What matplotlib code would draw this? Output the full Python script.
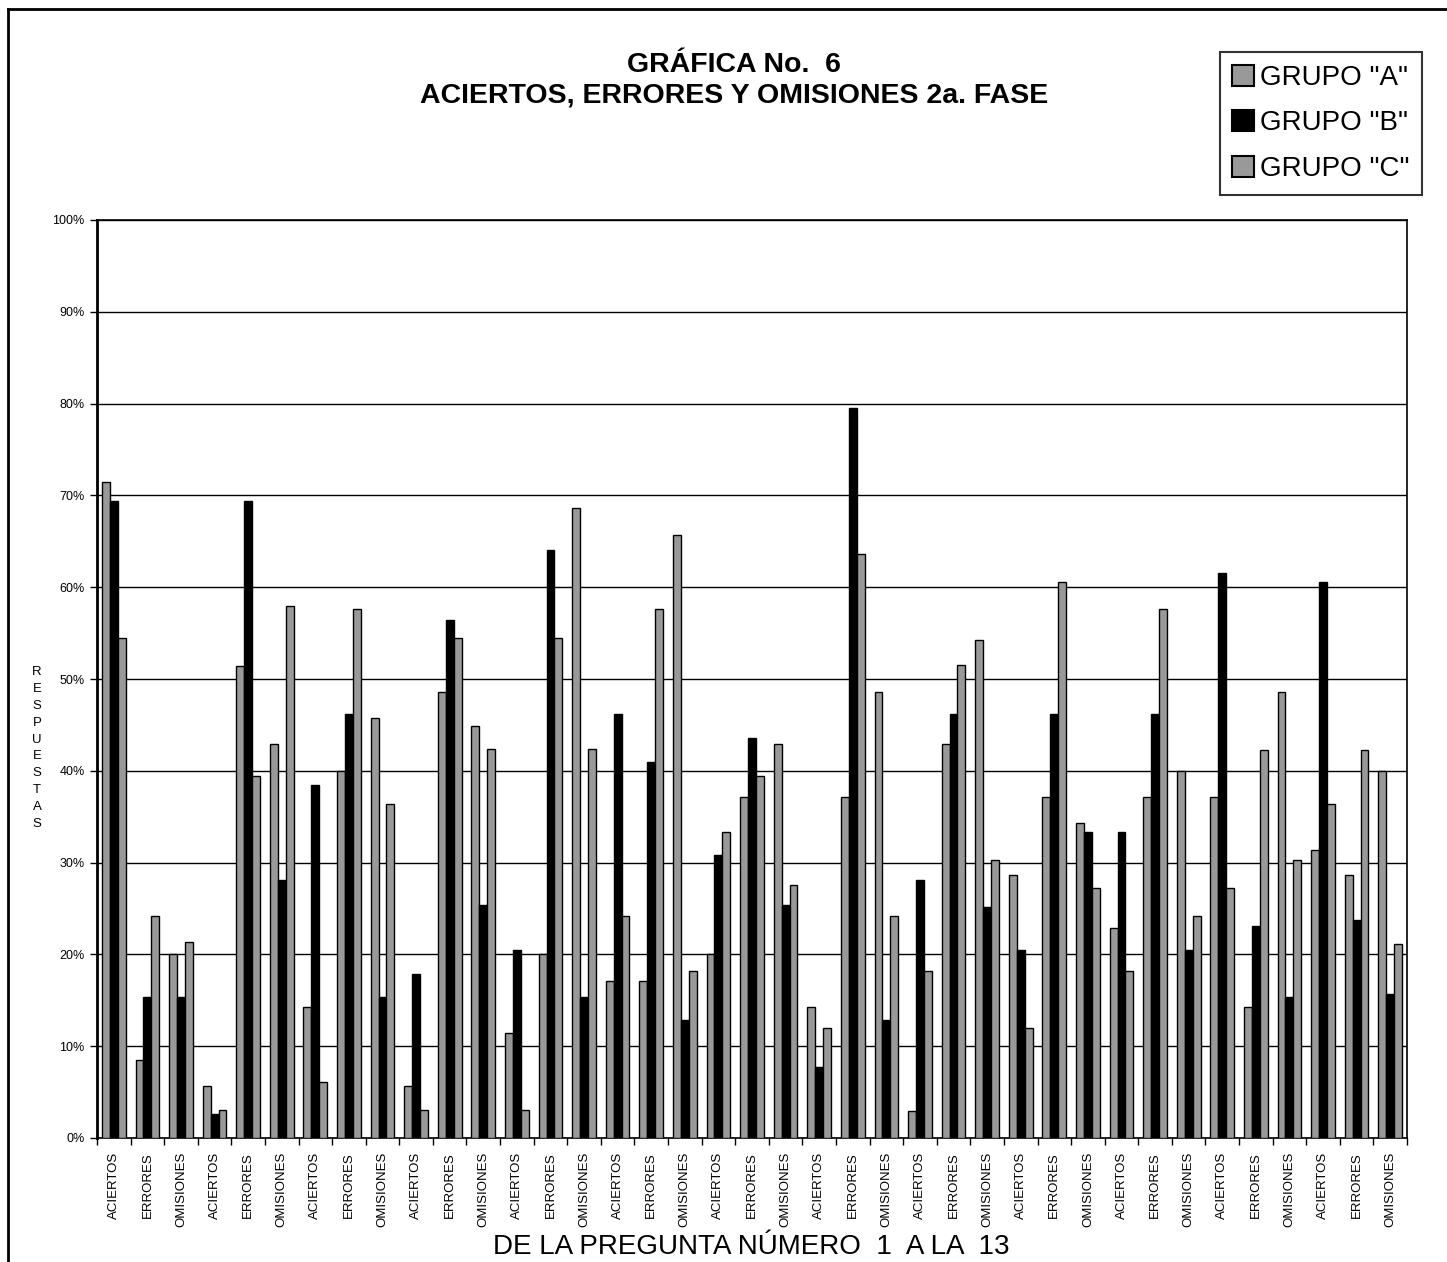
import numpy as np
import matplotlib
matplotlib.use("Agg")
from matplotlib import pyplot as plt
from matplotlib.patches import Patch
from matplotlib.lines import Line2D

plt.rcParams['font.family'] = ['Liberation Sans', 'DejaVu Sans']

categories = ['ACIERTOS', 'ERRORES', 'OMISIONES'] * 13

grupo_a = [71.5, 8.5, 20.0, 5.7, 51.4, 42.9, 14.3, 40.0, 45.7, 5.7, 48.6, 44.9,
           11.4, 20.0, 68.6, 17.1, 17.1, 65.7, 20.0, 37.1, 42.9, 14.3, 37.1, 48.6,
           2.9, 42.9, 54.3, 28.6, 37.1, 34.3, 22.9, 37.1, 40.0, 37.1, 14.3, 48.6,
           31.4, 28.6, 40.0]
grupo_b = [69.4, 15.4, 15.4, 2.6, 69.4, 28.1, 38.5, 46.2, 15.4, 17.9, 56.4, 25.4,
           20.5, 64.1, 15.4, 46.2, 41.0, 12.8, 30.8, 43.6, 25.4, 7.7, 79.5, 12.8,
           28.1, 46.2, 25.2, 20.5, 46.2, 33.3, 33.3, 46.2, 20.5, 61.5, 23.1, 15.4,
           60.6, 23.7, 15.7]
grupo_c = [54.5, 24.2, 21.3, 3.0, 39.4, 57.9, 6.1, 57.6, 36.4, 3.0, 54.5, 42.4,
           3.0, 54.5, 42.4, 24.2, 57.6, 18.2, 33.3, 39.4, 27.6, 12.0, 63.6, 24.2,
           18.2, 51.5, 30.3, 12.0, 60.6, 27.2, 18.2, 57.6, 24.2, 27.2, 42.3, 30.3,
           36.4, 42.3, 21.1]

series = [('GRUPO "A"', grupo_a, '#999999'),
          ('GRUPO "B"', grupo_b, '#000000'),
          ('GRUPO "C"', grupo_c, '#999999')]

fig = plt.figure(figsize=(14.47, 12.62), dpi=100)
ax = fig.add_axes([97 / 1447, 1 - 1138 / 1262, 1310 / 1447, 918 / 1262])

x = np.arange(len(categories))
w = 0.235
for i, (name, vals, col) in enumerate(series):
    ax.bar(x + (i - 1) * w, vals, w, color=col, edgecolor='black', linewidth=1.0, zorder=3)

ax.set_xlim(-0.5, len(categories) - 0.5)
ax.set_ylim(0, 100)
ax.set_yticks(np.arange(0, 101, 10))
ax.set_yticklabels([f'{v}%' for v in range(0, 101, 10)], fontsize=9)
ax.yaxis.grid(True, color='black', linewidth=1.0, zorder=0)
ax.set_axisbelow(True)

ax.set_xticks(x)
ax.set_xticklabels(categories, rotation=90, fontsize=9.5)
ax.set_xticks(np.arange(-0.5, len(categories), 1), minor=True)
ax.tick_params(axis='x', which='major', length=0, pad=10)
ax.tick_params(axis='x', which='minor', length=5, width=1, direction='out')
ax.tick_params(axis='y', length=5, width=1, direction='out', pad=4)
for s in ax.spines.values():
    s.set_linewidth(1.2)
ax.spines['left'].set_linewidth(2)

fig.text(734 / 1447, 1 - 80 / 1262, 'GRÁFICA No.  6\nACIERTOS, ERRORES Y OMISIONES 2a. FASE',
         ha='center', va='center', fontsize=20.5, fontweight='bold', linespacing=1.25)
fig.text(751 / 1447, 1 - 1247 / 1262, 'DE LA PREGUNTA NÚMERO  1  A LA  13',
         ha='center', va='center', fontsize=20)
fig.text(37 / 1447, 1 - 748 / 1262, '\n'.join('RESPUESTAS'),
         ha='center', va='center', fontsize=9.5, linespacing=1.55)

handles = [Patch(facecolor=c, edgecolor='black', linewidth=1.5) for _, _, c in series]
leg = fig.legend(handles, [n for n, _, _ in series], loc='upper right',
                 bbox_to_anchor=(1422 / 1447, 1 - 52 / 1262), fontsize=20,
                 frameon=True, fancybox=False, handlelength=0.8, handleheight=0.8,
                 handletextpad=0.2, labelspacing=0.7, borderpad=0.45, borderaxespad=0)
leg.get_frame().set_edgecolor('black')
leg.get_frame().set_linewidth(1.5)

# marco exterior (solo izquierda y arriba visibles)
fig.add_artist(Line2D([8 / 1447, 8 / 1447], [0, 1 - 9 / 1262], color='black', linewidth=2,
                      transform=fig.transFigure))
fig.add_artist(Line2D([8 / 1447, 1], [1 - 9 / 1262, 1 - 9 / 1262], color='black', linewidth=2,
                      transform=fig.transFigure))

fig.savefig('out.png', dpi=100)
